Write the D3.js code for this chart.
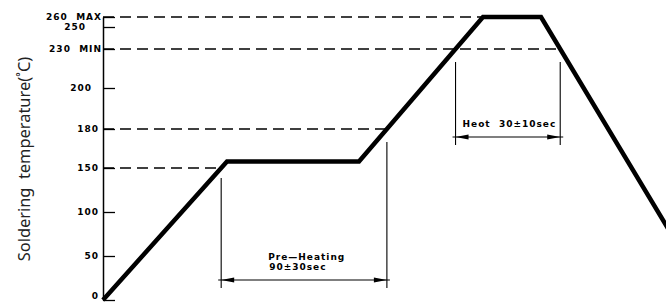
<!DOCTYPE html>
<html><head><meta charset="utf-8">
<script src="https://cdn.jsdelivr.net/npm/d3@7/dist/d3.min.js"></script>
<style>
html,body{margin:0;padding:0;background:#fff;}
svg{display:block;}
.cad{font-family:"DejaVu Sans",sans-serif;font-weight:bold;font-size:9px;letter-spacing:1px;white-space:pre;fill:#000;}
</style></head>
<body><svg id="c" width="666" height="302"></svg>
<script>
// ---- data ----
const profileTime = [0, 62, 128, 190, 219, 300];      // seconds (schematic)
const profileTemp = [0, 155, 155, 260, 260, 15];       // °C
const tickValues  = [0, 50, 100, 150, 180, 200, 230, 250, 260];
const tickLabels  = ["0", "50", "100", "150", "180", "200", "230  MIN", "250", "260  MAX"];
const refLevels   = [150, 180, 230, 260];               // dashed reference temperatures
const preheatRange = [150, 180];                        // Pre-Heating 90±30sec
const heatLevel    = 230;                               // Heat 30±10sec
const preheatText  = ["Pre\u2014Heating", "90\u00b130sec"];
const heatText     = "Heot  30\u00b110sec";
const yTitle       = "Soldering  temperature(\u02daC)";

// ---- scales (schematic, non-uniform temperature axis) ----
const W = 666, H = 302;
const svg = d3.select("#c");
const x = d3.scaleLinear().domain([0, 280]).range([103, 663]);
const y = d3.scaleLinear().domain(tickValues).range([300, 256, 212, 168, 129, 88, 49, 27, 17]);

const pts = profileTime.map((t, i) => [x(t), y(profileTemp[i])]);

// find screen x where profile crosses a temperature (nth crossing)
function crossX(temp, n) {
  const yy = y(temp); let c = 0;
  for (let i = 0; i < pts.length - 1; i++) {
    const [x0, y0] = pts[i], [x1, y1] = pts[i + 1];
    if ((y0 - yy) * (y1 - yy) <= 0 && y0 !== y1) {
      if (c === n) return x0 + (yy - y0) / (y1 - y0) * (x1 - x0);
      c++;
    }
  }
  return null;
}

// ---- dashed reference lines ----
const refEnd = {150: crossX(150, 0), 180: crossX(180, 0), 230: crossX(230, 1), 260: x(profileTime[3])};
svg.append("g").selectAll("line").data(refLevels).join("line")
  .attr("x1", x(0)).attr("x2", d => refEnd[d])
  .attr("y1", d => y(d)).attr("y2", d => y(d))
  .attr("stroke", "#000").attr("stroke-width", 1.3).attr("stroke-dasharray", "11,6");

// ---- axis ----
const ax = svg.append("g").attr("transform", `translate(${x(0)},0)`)
  .call(d3.axisLeft(y).tickValues(tickValues).tickSizeInner(-12).tickSizeOuter(0).tickPadding(4)
    .tickFormat((d, i) => tickLabels[i]));
ax.select(".domain").attr("stroke", "#000").attr("stroke-width", 1.5);
ax.selectAll(".tick line").attr("stroke", "#000").attr("stroke-width", 1.3);
ax.selectAll(".tick text").attr("class", "cad").attr("font-family", null).attr("font-size", null)
  .attr("dx", d => d === 250 ? -13 : d === 200 ? -7 : (d === 260 || d === 230) ? 3 : 0)
  .attr("dy", d => d === 0 ? "-0.15em" : "0.32em");

// ---- profile ----
svg.append("path").datum(pts)
  .attr("d", d3.line())
  .attr("fill", "none").attr("stroke", "#000").attr("stroke-width", 4.5)
  .attr("stroke-linejoin", "miter");

// ---- dimension annotations ----
function dimension(xa, xb, topA, topB, yArrow, bottom) {
  const g = svg.append("g").attr("stroke", "#000").attr("stroke-width", 1.1);
  g.append("line").attr("x1", xa).attr("x2", xa).attr("y1", topA).attr("y2", bottom);
  g.append("line").attr("x1", xb).attr("x2", xb).attr("y1", topB).attr("y2", bottom);
  g.append("line").attr("x1", xa - 3).attr("x2", xb + 3).attr("y1", yArrow).attr("y2", yArrow);
  const L = 13, h = 2.6;
  svg.append("path").attr("fill", "#000")
    .attr("d", `M${xa},${yArrow}L${xa + L},${yArrow - h}L${xa + L},${yArrow + h}Z` +
               `M${xb},${yArrow}L${xb - L},${yArrow - h}L${xb - L},${yArrow + h}Z`);
}
const pA = crossX(preheatRange[0], 0), pB = crossX(preheatRange[1], 0);
dimension(pA, pB, 178, 142, 280, 288);
const hA = crossX(heatLevel, 0), hB = crossX(heatLevel, 1);
dimension(hA, hB, 62, 62, 137, 145);

svg.append("text").attr("class", "cad").attr("x", pA + 47).attr("y", 260).text(preheatText[0]);
svg.append("text").attr("class", "cad").attr("x", pA + 48).attr("y", 270).text(preheatText[1]);
svg.append("text").attr("class", "cad").attr("x", hA + 7).attr("y", 127).text(heatText);

// ---- y title ----
svg.append("text")
  .attr("transform", `translate(30,${159}) rotate(-90)`)
  .attr("text-anchor", "middle")
  .attr("font-family", "Noto Sans, sans-serif").attr("font-size", 16.4)
  .attr("fill", "#222").style("white-space", "pre")
  .text(yTitle);
</script>
</body></html>
